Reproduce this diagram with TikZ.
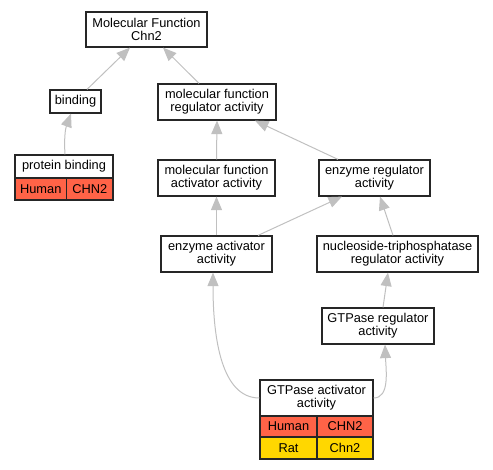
\documentclass[tikz,border=0pt]{standalone}
\usepackage{fontspec}
\setmainfont{Liberation Sans}
\usetikzlibrary{arrows.meta}
\definecolor{edgegray}{RGB}{192,192,192}
\definecolor{humanc}{RGB}{255,99,71}
\definecolor{ratc}{RGB}{255,215,0}
\newcommand{\gvfont}{\fontsize{12.8}{13}\selectfont}
\begin{document}
\begin{tikzpicture}[x=1pt,y=-1pt,
  box/.style={draw=black!85,line width=1.2pt,fill=white,inner sep=0pt,align=center,font=\gvfont},
  edge/.style={draw=edgegray,line width=1pt,-{Triangle[length=13.5pt,width=11pt]}},
  hum/.style={box,fill=humanc},
  rat/.style={box,fill=ratc}]
\useasboundingbox (0,0) rectangle (493,469);
% nodes
\node[box,minimum width=121pt,minimum height=35pt] (mf) at (146.5,29.5) {Molecular Function\\Chn2};
\node[box,minimum width=51pt,minimum height=23pt] (bind) at (75.5,101.5) {binding};
\node[box,minimum width=118pt,minimum height=36pt] (mfra) at (217,102) {molecular function\\regulator activity};
\node[box,minimum width=98pt,minimum height=23pt] (pb) at (64,166.5) {protein binding};
\node[hum,minimum width=51.5pt,minimum height=22pt] (pbh) at (40.75,189) {Human};
\node[hum,minimum width=46.5pt,minimum height=22pt] (pbg) at (89.75,189) {CHN2};
\node[box,minimum width=117pt,minimum height=36pt] (mfaa) at (216.5,178) {molecular function\\activator activity};
\node[box,minimum width=111pt,minimum height=36pt] (er) at (374.5,178) {enzyme regulator\\activity};
\node[box,minimum width=111pt,minimum height=36pt] (ea) at (216.5,254) {enzyme activator\\activity};
\node[box,minimum width=161pt,minimum height=36pt] (ntp) at (397.5,254) {nucleoside-triphosphatase\\regulator activity};
\node[box,minimum width=112pt,minimum height=36pt] (gr) at (378,326) {GTPase regulator\\activity};
\node[box,minimum width=113pt,minimum height=36pt] (ga) at (316.5,398) {GTPase activator\\activity};
\node[hum,minimum width=57pt,minimum height=21pt] (gah) at (288.5,426.5) {Human};
\node[hum,minimum width=56pt,minimum height=21pt] (gag) at (345,426.5) {CHN2};
\node[rat,minimum width=57pt,minimum height=22pt] (gar) at (288.5,448) {Rat};
\node[rat,minimum width=56pt,minimum height=22pt] (gac) at (345,448) {Chn2};
% edges
\draw[edge] ([xshift=11.5pt]bind.north) -- ([xshift=-16.5pt]mf.south);
\draw[edge] ([xshift=-18pt]mfra.north) -- ([xshift=16.5pt]mf.south);
\draw[edge] ([xshift=1pt]pb.north) to[bend left=12] ([xshift=-4.5pt]bind.south);
\draw[edge] (mfaa.north) -- (mfra.south);
\draw[edge] ([xshift=-36.5pt]er.north) -- ([xshift=38pt]mfra.south);
\draw[edge] (ea.north) -- (mfaa.south);
\draw[edge] ([xshift=41.5pt]ea.north) -- ([xshift=-32.5pt]er.south);
\draw[edge] ([xshift=-4.5pt]ntp.north) -- ([xshift=5.5pt]er.south);
\draw[edge] ([xshift=5pt]gr.north) -- ([xshift=-9.5pt]ntp.south);
\draw[edge] (ga.west) .. controls (222,398) and (213,340) .. ([xshift=-3.5pt]ea.south);
\draw[edge] (ga.east) .. controls (390,398) and (386,370) .. ([xshift=7pt]gr.south);
\end{tikzpicture}
\end{document}
